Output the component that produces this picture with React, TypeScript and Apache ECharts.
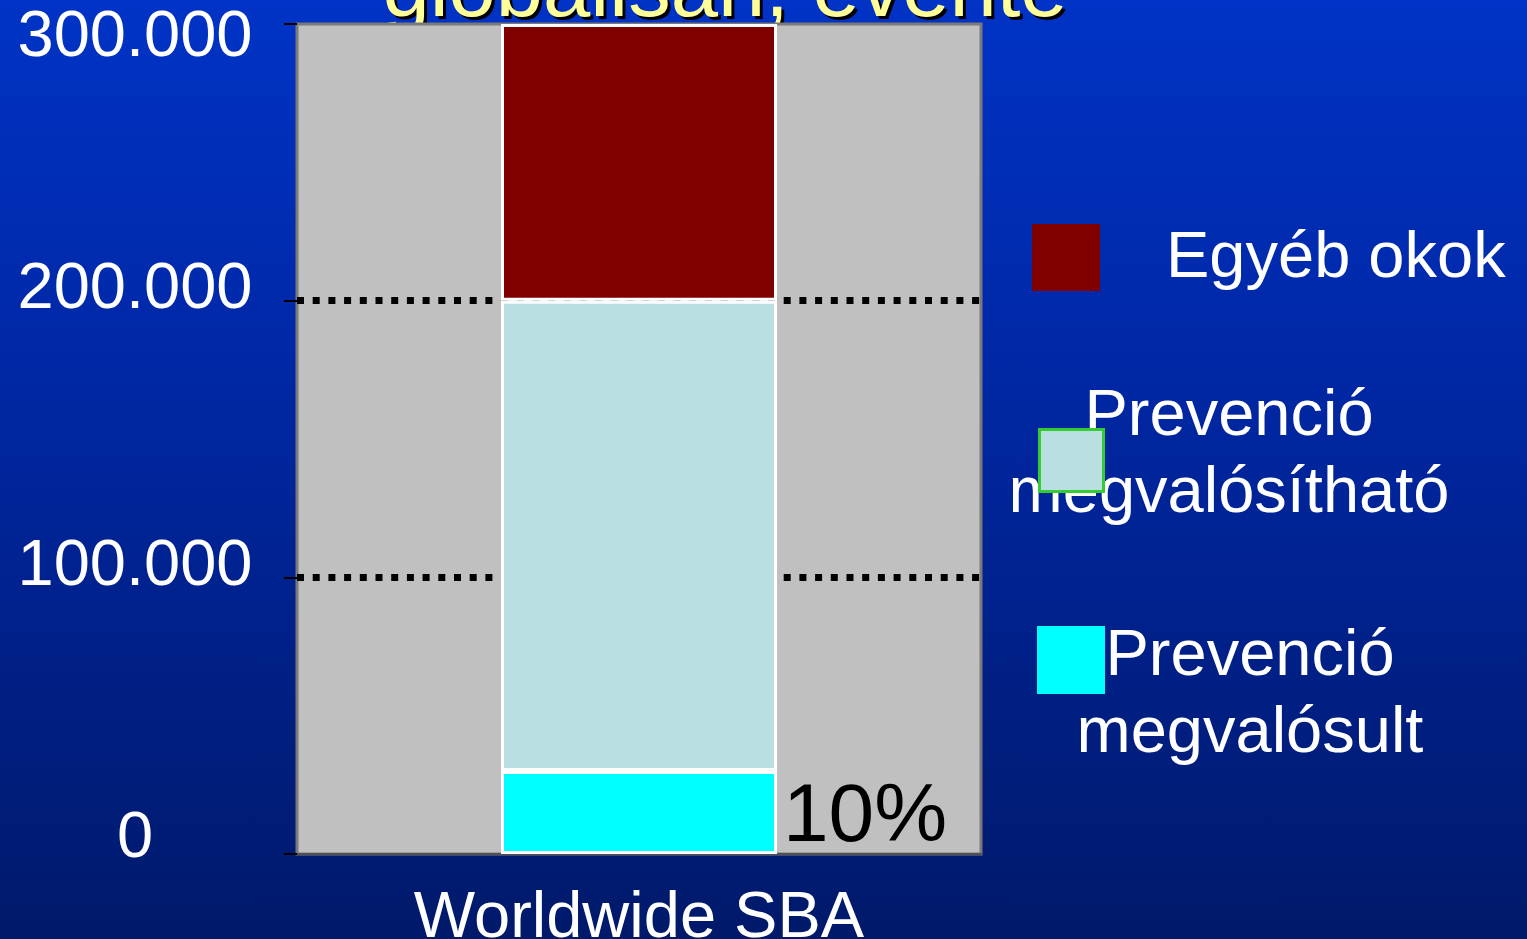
import React, { useEffect, useRef } from 'react';
import * as echarts from 'echarts';

// Stacked single-category bar: sudden cardiac death breakdown
const categories = ['Worldwide SBA'];
const preventionRealized = [30000];
const preventionPossible = [170000];
const otherCauses = [100000];
const seriesNames = ['Prevenció megvalósult', 'Prevenció megvalósítható', 'Egyéb okok'];
const yMax = 300000;
const yStep = 100000;
const titleLine = 'globálisan, évente';

const FONT = '"Liberation Sans", Arial, Helvetica, sans-serif';
const C_RED = '#800000';
const C_LIGHT = '#b9dfe2';
const C_CYAN = '#00ffff';

const fmtThousands = (v: number) => String(v).replace(/\B(?=(\d{3})+(?!\d))/g, '.');
const twoLines = (s: string) => s.replace(' ', '\n');

export default function App() {
  const ref = useRef<HTMLDivElement>(null);

  useEffect(() => {
    if (!ref.current) return;
    const chart = echarts.init(ref.current, undefined, { renderer: 'svg' });
    const total = preventionRealized[0] + preventionPossible[0] + otherCauses[0];

    const labelBase = { color: '#ffffff', fontSize: 65, fontFamily: FONT };

    const option: any = {
      animation: false,
      grid: {
        left: 297,
        top: 24,
        right: 546,
        bottom: 85,
        outerBoundsMode: 'none',
        containLabel: false,
        show: true,
        backgroundColor: '#c0c0c0',
        borderColor: '#7a7a7a',
        borderWidth: 3,
      },
      xAxis: {
        type: 'category',
        data: categories,
        axisLine: { show: true, lineStyle: { color: '#505050', width: 2 } },
        axisTick: { show: false },
        axisLabel: { color: '#ffffff', fontSize: 65, fontFamily: FONT, margin: 28 },
      },
      yAxis: {
        type: 'value',
        min: 0,
        max: yMax,
        interval: yStep,
        axisLine: { show: false },
        axisTick: { show: true, length: 13, lineStyle: { color: '#000000', width: 2 } },
        axisLabel: {
          margin: 162,
          align: 'center',
          formatter: (v: number) => {
            if (v === yMax) return `{top|${fmtThousands(v)}}`;
            if (v === 0) return `{zero|0}`;
            return `{mid|${fmtThousands(v)}}`;
          },
          rich: {
            top: { ...labelBase, padding: [18, 0, 0, 0] },
            mid: { ...labelBase, padding: [0, 0, 30, 0] },
            zero: { ...labelBase, padding: [0, 0, 40, 0] },
          },
        },
        splitLine: {
          show: true,
          showMinLine: false,
          showMaxLine: false,
          lineStyle: { color: '#000000', width: 7, type: [7, 8.7] },
        },
      },
      series: [
        {
          name: seriesNames[0],
          type: 'bar',
          stack: 'total',
          barWidth: 276,
          data: preventionRealized,
          itemStyle: { color: C_CYAN, borderColor: '#ffffff', borderWidth: 3 },
          label: {
            show: true,
            position: 'right',
            distance: 6,
            color: '#000000',
            fontSize: 82,
            fontFamily: FONT,
            formatter: (p: any) => `${Math.round((p.value / total) * 100)}%`,
          },
        },
        {
          name: seriesNames[1],
          type: 'bar',
          stack: 'total',
          barWidth: 276,
          data: preventionPossible,
          itemStyle: { color: C_LIGHT, borderColor: '#ffffff', borderWidth: 3 },
        },
        {
          name: seriesNames[2],
          type: 'bar',
          stack: 'total',
          barWidth: 276,
          data: otherCauses,
          itemStyle: { color: C_RED, borderColor: '#ffffff', borderWidth: 3 },
        },
      ],
      graphic: [
        // title line (top of slide, partly behind the plot frame)
        {
          type: 'text',
          x: 728,
          y: -11,
          z: -10,
          style: {
            text: titleLine,
            fill: '#000000',
            font: `85px ${FONT}`,
            align: 'center',
            verticalAlign: 'middle',
          },
        },
        {
          type: 'text',
          x: 725,
          y: -14,
          z: -9,
          style: {
            text: titleLine,
            fill: '#ffff99',
            font: `85px ${FONT}`,
            align: 'center',
            verticalAlign: 'middle',
          },
        },
        // legend: other causes
        {
          type: 'rect',
          z: 10,
          shape: { x: 1032, y: 224, width: 68, height: 67 },
          style: { fill: C_RED },
        },
        {
          type: 'text',
          z: 10,
          x: 1166,
          y: 254,
          style: {
            text: seriesNames[2],
            fill: '#ffffff',
            font: `65px ${FONT}`,
            align: 'left',
            verticalAlign: 'middle',
          },
        },
        // legend: prevention achievable
        {
          type: 'text',
          z: 10,
          x: 1229,
          y: 451,
          style: {
            text: twoLines(seriesNames[1]),
            fill: '#ffffff',
            font: `65px ${FONT}`,
            lineHeight: 77,
            align: 'center',
            verticalAlign: 'middle',
          },
        },
        {
          type: 'rect',
          z: 11,
          shape: { x: 1039.5, y: 429.5, width: 64, height: 62 },
          style: { fill: C_LIGHT, stroke: '#33cc33', lineWidth: 3 },
        },
        // legend: prevention realized
        {
          type: 'rect',
          z: 10,
          shape: { x: 1037, y: 626, width: 68, height: 68 },
          style: { fill: C_CYAN },
        },
        {
          type: 'text',
          z: 11,
          x: 1250,
          y: 691,
          style: {
            text: twoLines(seriesNames[0]),
            fill: '#ffffff',
            font: `65px ${FONT}`,
            lineHeight: 77,
            align: 'center',
            verticalAlign: 'middle',
          },
        },
      ],
    };

    chart.setOption(option);
    return () => chart.dispose();
  }, []);

  return (
    <div
      ref={ref}
      style={{
        position: 'fixed',
        left: 0,
        top: 0,
        width: 1527,
        height: 939,
        background: 'linear-gradient(180deg, #0033c6 0%, #0026a0 45%, #00196a 100%)',
      }}
    />
  );
}
